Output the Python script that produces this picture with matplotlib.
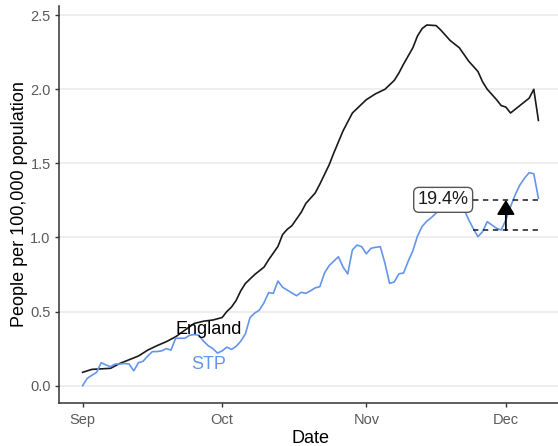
import numpy as np
import matplotlib
matplotlib.use('Agg')
import matplotlib.pyplot as plt
import matplotlib.dates as mdates

plt.rcParams['font.family'] = ['Liberation Sans', 'DejaVu Sans']

# days since 1 Sep 2020 and values (people per 100,000)
start = np.datetime64('2020-09-01')
england_day = [0, 2, 6, 8, 10, 12, 14, 16, 18, 20, 22, 24, 26, 28, 30, 31, 32, 33, 34, 35,
               37, 39, 40, 42, 43, 44, 45, 47, 48, 50, 51, 53, 54, 56, 58, 60, 61, 63, 65,
               67, 68, 69, 71, 72, 73, 74, 76, 77, 79, 81, 83, 85, 86, 87, 89, 90, 91, 92,
               94, 96, 97, 98]
england_val = [0.09, 0.11, 0.117, 0.15, 0.175, 0.20, 0.24, 0.27, 0.297, 0.33, 0.375, 0.42,
               0.435, 0.443, 0.46, 0.50, 0.53, 0.575, 0.64, 0.69, 0.75, 0.80, 0.85, 0.94,
               1.02, 1.055, 1.08, 1.17, 1.23, 1.30, 1.36, 1.49, 1.57, 1.72, 1.84, 1.90, 1.93,
               1.97, 2.00, 2.06, 2.11, 2.17, 2.28, 2.36, 2.41, 2.434, 2.43, 2.40, 2.33, 2.28,
               2.19, 2.12, 2.05, 2.00, 1.93, 1.89, 1.88, 1.84, 1.89, 1.94, 2.00, 1.79]

stp_day = list(range(0, 99))
stp_val = [0.00, 0.05, 0.07, 0.09, 0.155, 0.14, 0.128, 0.146, 0.146, 0.15,
           0.146, 0.10, 0.155, 0.165, 0.20, 0.23, 0.23, 0.235, 0.25, 0.24,
           0.32, 0.32, 0.32, 0.34, 0.345, 0.34, 0.30, 0.27, 0.25, 0.22,
           0.235, 0.26, 0.245, 0.265, 0.30, 0.35, 0.46, 0.49, 0.51, 0.56,
           0.628, 0.623, 0.706, 0.664, 0.645, 0.625, 0.607, 0.63, 0.623, 0.64,
           0.66, 0.668, 0.76, 0.81, 0.84, 0.87, 0.80, 0.754, 0.916, 0.949,
           0.938, 0.89, 0.927, 0.934, 0.938, 0.826, 0.69, 0.70, 0.755, 0.76,
           0.84, 0.91, 1.01, 1.075, 1.11, 1.135, 1.165, 1.19, 1.21, 1.22,
           1.21, 1.20, 1.19, 1.12, 1.06, 1.005, 1.04, 1.107, 1.084, 1.062,
           1.051, 1.118, 1.208, 1.287, 1.354, 1.40, 1.437, 1.43, 1.265]

# change annotation
base_day = 84
end_day = 98
arrow_day = 91
low_val = 1.05
high_val = 1.254
change_label = '19.4%'

xtick_dates = ['2020-09-01', '2020-10-01', '2020-11-01', '2020-12-01']
yticks = [0.0, 0.5, 1.0, 1.5, 2.0, 2.5]


def to_dates(days):
    return start + np.array(days).astype('timedelta64[D]')


fig = plt.figure(figsize=(5.58, 4.46), dpi=100)
ax = fig.add_axes([0.1057, 0.0964, 0.8943, 0.8901])

ax.plot(to_dates(england_day), england_val, color='#1a1a1a', lw=1.2, zorder=3)
ax.plot(to_dates(stp_day), stp_val, color='#6495ED', lw=1.2, zorder=3)

# dashed reference lines + arrow
ax.plot(to_dates([base_day, end_day]), [high_val, high_val], color='#1a1a1a', lw=1.1,
        ls=(0, (3.5, 3)), zorder=4)
ax.plot(to_dates([base_day, end_day]), [low_val, low_val], color='#1a1a1a', lw=1.1,
        ls=(0, (3.5, 3)), zorder=4)
ax.annotate('', xy=(to_dates([arrow_day])[0], high_val),
            xytext=(to_dates([arrow_day])[0], low_val),
            arrowprops=dict(arrowstyle='-|>,head_length=0.9,head_width=0.55', color='black',
                            lw=1.3, shrinkA=0, shrinkB=0, mutation_scale=10), zorder=5)
ax.text(to_dates([base_day - 1])[0], high_val, change_label, ha='right', va='center',
        fontsize=13, color='#1a1a1a', zorder=6,
        bbox=dict(boxstyle='round,pad=0.22,rounding_size=0.3', fc='white', ec='#555555', lw=1))

# series labels
ax.text(to_dates([27])[0], 0.38, 'England', ha='center', va='center', fontsize=13,
        color='black', zorder=6)
ax.text(to_dates([27])[0], 0.146, 'STP', ha='center', va='center', fontsize=13,
        color='#6495ED', zorder=6)

ax.set_xlim(start - np.timedelta64(122, 'h'), start + np.timedelta64(2453, 'h'))
ax.set_ylim(-0.117, 2.562)

ax.set_xticks(np.array(xtick_dates, dtype='datetime64[D]'))
ax.xaxis.set_major_formatter(mdates.DateFormatter('%b'))
ax.set_yticks(yticks)
ax.set_yticklabels(['%.1f' % v for v in yticks])

ax.grid(axis='y', color='#ebebeb', lw=1.2)
ax.set_axisbelow(True)
for s in ['top', 'right']:
    ax.spines[s].set_visible(False)
for s in ['left', 'bottom']:
    ax.spines[s].set_color('#333333')
    ax.spines[s].set_linewidth(1.1)
ax.tick_params(axis='both', length=3, width=1, color='#333333', labelcolor='#5a5a5a',
               labelsize=10.5, pad=3)
ax.tick_params(axis='x', pad=4)

ax.set_xlabel('Date', fontsize=13, color='black')
ax.set_ylabel('People per 100,000 population', fontsize=13, color='black')
ax.xaxis.set_label_coords(0.504, -0.068)
ax.yaxis.set_label_coords(-0.063, 0.5)

fig.savefig('out.png', dpi=100)
